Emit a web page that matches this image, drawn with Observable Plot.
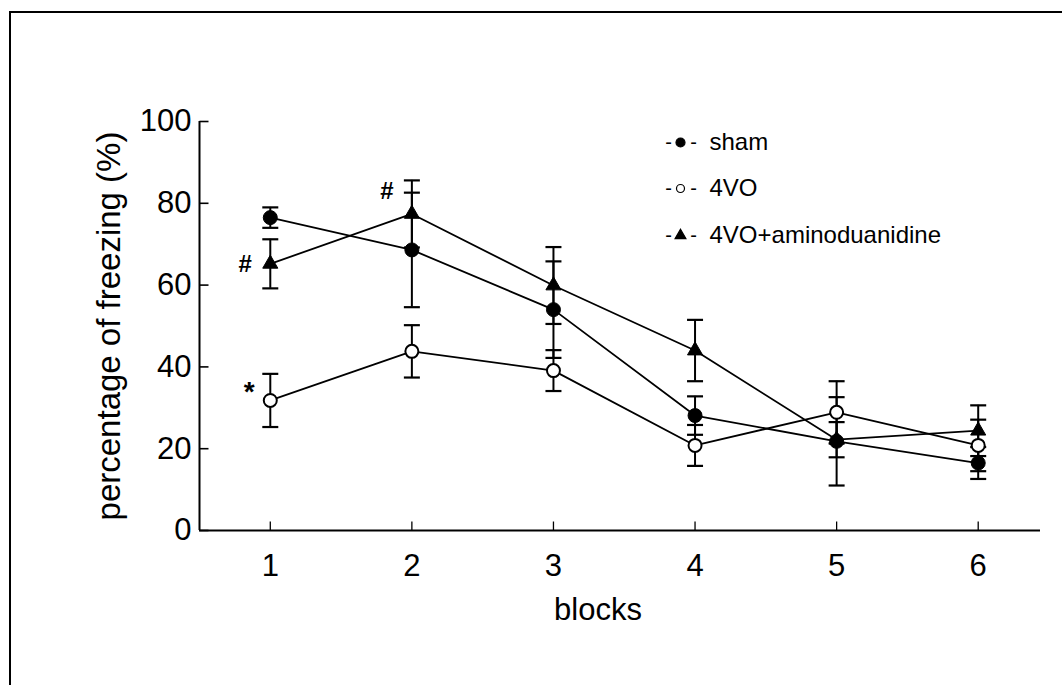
<!DOCTYPE html>
<html>
<head>
<meta charset="utf-8">
<script src="https://cdn.jsdelivr.net/npm/d3@7"></script>
<script src="https://cdn.jsdelivr.net/npm/@observablehq/plot@0.6"></script>
<style>
  html, body { margin: 0; padding: 0; background: #fff; }
  #wrap { position: relative; width: 1062px; height: 685px; overflow: hidden; }
  #frame { position: absolute; left: 9px; top: 11px; right: -4px; bottom: -4px;
           border-top: 2px solid #000; border-left: 2px solid #000; pointer-events: none; }
</style>
</head>
<body>
<div id="wrap"><div id="frame"></div></div>
<script>
// ---- data ----
const blocks = [1, 2, 3, 4, 5, 6];
const seriesNames = ["sham", "4VO", "4VO+aminoduanidine"];
const shamMean = [76.5, 68.6, 54.0, 28.1, 21.8, 16.5];
const shamErr  = [2.5, 14.0, 11.8, 4.7, 10.8, 3.9];
const vo4Mean  = [31.8, 43.8, 39.1, 20.8, 28.9, 20.8];
const vo4Err   = [6.5, 6.4, 5.0, 5.0, 7.6, 6.3];
const agMean   = [65.2, 77.4, 59.9, 44.0, 22.2, 24.4];
const agErr    = [6.0, 8.2, 9.4, 7.5, 4.3, 6.2];
const yTicks = [0, 20, 40, 60, 80, 100];
const xLabel = "blocks";
const yLabel = "percentage of freezing (%)";
const annotations = [
  {block: 1, series: "4VO+aminoduanidine", label: "#"},
  {block: 2, series: "4VO+aminoduanidine", label: "#"},
  {block: 1, series: "4VO", label: "*"}
];

// ---- table ----
const means = {"sham": shamMean, "4VO": vo4Mean, "4VO+aminoduanidine": agMean};
const errs = {"sham": shamErr, "4VO": vo4Err, "4VO+aminoduanidine": agErr};
const rows = seriesNames.flatMap(s => blocks.map((b, i) => ({
  series: s, block: b, value: means[s][i], lo: means[s][i] - errs[s][i], hi: means[s][i] + errs[s][i]
})));
const annRows = annotations.map(a => ({...a, value: means[a.series][blocks.indexOf(a.block)]}));

const xDomain = [0.5, 6.44];
const font = "'Liberation Sans', Arial, Helvetica, sans-serif";

// custom symbols
const capSym = {draw(ctx) { ctx.moveTo(-8, 0); ctx.lineTo(8, 0); }};
const tickRight = {draw(ctx) { ctx.moveTo(0, 0); ctx.lineTo(9, 0); }};
const tickUp = {draw(ctx) { ctx.moveTo(0, 0); ctx.lineTo(0, -9); }};

const styleOf = {
  "sham": {symbol: "circle", r: 7, fill: "black", stroke: "black"},
  "4VO": {symbol: "circle", r: 6.5, fill: "white", stroke: "black"},
  "4VO+aminoduanidine": {symbol: "triangle", r: 5.6, fill: "black", stroke: "black"}
};
const legendStyle = {
  "sham": {symbol: "circle", r: 4.5, fill: "black"},
  "4VO": {symbol: "circle", r: 4, fill: "white"},
  "4VO+aminoduanidine": {symbol: "triangle", r: 4, fill: "black"}
};
const legendRowY = [21, 67, 114];

const marks = [
  // axes lines
  Plot.ruleY([0], {stroke: "black", strokeWidth: 2}),
  Plot.ruleX([xDomain[0]], {y1: 0, y2: 100, stroke: "black", strokeWidth: 2}),
  Plot.dot(yTicks, {y: d => d, frameAnchor: "left", symbol: tickRight, fill: "none", stroke: "black", strokeWidth: 1.6}),
  Plot.dot(blocks, {x: d => d, frameAnchor: "bottom", symbol: tickUp, fill: "none", stroke: "black", strokeWidth: 1.3}),
  Plot.axisY(yTicks, {tickSize: 0, tickPadding: 8, fontSize: 31, label: null}),
  Plot.axisX(blocks, {tickSize: 0, tickPadding: 23, fontSize: 31, label: null, tickFormat: d3.format("d")}),
  Plot.text([yLabel], {frameAnchor: "left", rotate: -90, dx: -90, textAnchor: "middle", lineAnchor: "middle", fontSize: 33, fill: "black"}),
  Plot.text([xLabel], {frameAnchor: "bottom", dx: -22, dy: 80, textAnchor: "middle", lineAnchor: "middle", fontSize: 31, fill: "black"}),
  // lines
  Plot.line(rows, {x: "block", y: "value", z: "series", stroke: "black", strokeWidth: 1.8}),
  // error bars
  Plot.ruleX(rows, {x: "block", y1: "lo", y2: "hi", stroke: "black", strokeWidth: 2}),
  Plot.dot(rows, {x: "block", y: "lo", symbol: capSym, fill: "none", stroke: "black", strokeWidth: 2.2}),
  Plot.dot(rows, {x: "block", y: "hi", symbol: capSym, fill: "none", stroke: "black", strokeWidth: 2.2}),
  // markers
  ...["4VO", "4VO+aminoduanidine", "sham"].map(s => Plot.dot(rows.filter(d => d.series === s), {
    x: "block", y: "value", ...styleOf[s], strokeWidth: s === "4VO" ? 2 : 1
  })),
  // annotations
  Plot.text(annRows.filter(d => d.label === "#" && d.block === 1), {x: "block", y: "value", text: "label", dx: -25, dy: 0, fontSize: 24, fontWeight: "bold", fill: "black"}),
  Plot.text(annRows.filter(d => d.label === "#" && d.block === 2), {x: "block", y: "value", text: "label", dx: -25, dy: -23, fontSize: 24, fontWeight: "bold", fill: "black"}),
  Plot.text(annRows.filter(d => d.label === "*"), {x: "block", y: "value", text: "label", dx: -21, dy: -8, fontSize: 28, fontWeight: "bold", fill: "black"}),
  // legend
  ...seriesNames.flatMap((s, i) => [
    Plot.text([s], {frameAnchor: "top-left", dx: 469, dy: legendRowY[i], text: () => "-", textAnchor: "middle", lineAnchor: "middle", fontSize: 20, fill: "black"}),
    Plot.dot([s], {frameAnchor: "top-left", dx: 481, dy: legendRowY[i], ...legendStyle[s], stroke: "black", strokeWidth: 1.2}),
    Plot.text([s], {frameAnchor: "top-left", dx: 494, dy: legendRowY[i], text: () => "-", textAnchor: "middle", lineAnchor: "middle", fontSize: 20, fill: "black"}),
    Plot.text([s], {frameAnchor: "top-left", dx: 510, dy: legendRowY[i], text: d => d, textAnchor: "start", lineAnchor: "middle", fontSize: 24, fill: "black"})
  ])
];

const chart = Plot.plot({
  width: 1062,
  height: 685,
  marginLeft: 199,
  marginRight: 22,
  marginTop: 121,
  marginBottom: 155,
  x: {domain: xDomain},
  y: {domain: [0, 100]},
  style: {fontFamily: font, color: "black", background: "white"},
  marks
});
chart.style.display = "block";
document.getElementById("wrap").prepend(chart);
</script>
</body>
</html>
